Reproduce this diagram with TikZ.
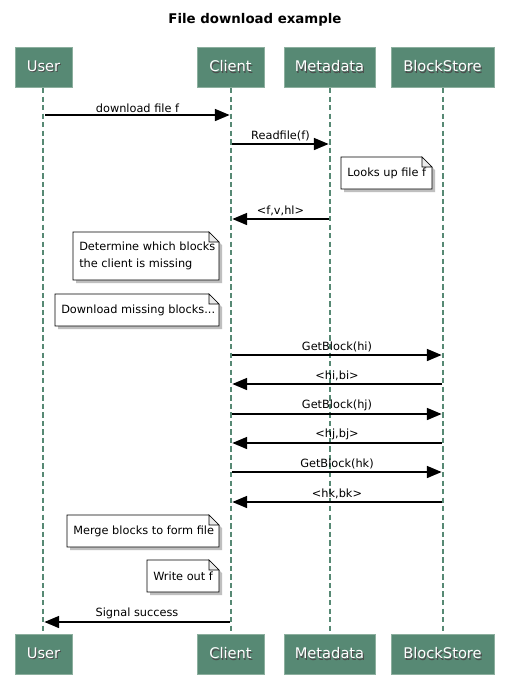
\documentclass[tikz,border=0pt]{standalone}
\usepackage{fontspec}
\setmainfont{DejaVu Sans}
\usetikzlibrary{arrows.meta}
\definecolor{pgreen}{RGB}{87,137,116}
\definecolor{pborder}{RGB}{140,175,158}
\definecolor{lgreen}{RGB}{87,137,116}
\definecolor{notefold}{RGB}{235,235,235}
\newcommand\ptext[1]{\rlap{\kern0.8pt\raisebox{-0.8pt}{\textcolor{black!70}{#1}}}\textcolor{white}{#1}}
\tikzset{
  part/.style={fill=pgreen, draw=pborder, line width=0.7pt, inner sep=0pt,
    minimum height=40*0.75pt, font=\fontsize{11}{13}\selectfont},
  lifeline/.style={draw=lgreen, line width=2pt, dash pattern=on 4pt off 2.4pt},
  msg/.style={line width=1.1pt, -{Triangle[length=11pt,width=9pt]}, shorten >=0.3pt},
  msglabel/.style={font=\fontsize{8.5}{10}\selectfont, inner sep=1.5pt, above},
  notebd/.style={draw=black, line width=0.5pt, fill=white},
  notetext/.style={font=\fontsize{8.5}{12.5}\selectfont, inner sep=0pt, align=left},
}
\newcommand\notebox[6]{%
  \fill[black!25] ({#2+3},{#3+3}) -- ({#4-10+3},{#3+3}) -- ({#4+3},{#3+10+3}) -- ({#4+3},{#5+3}) -- ({#2+3},{#5+3}) -- cycle;
  \draw[notebd] (#2,#3) -- ({#4-10},#3) -- (#4,{#3+10}) -- (#4,#5) -- (#2,#5) -- cycle;
  \draw[notebd, fill=notefold] ({#4-10},#3) -- ({#4-10},{#3+10}) -- (#4,{#3+10}) -- cycle;
  \node[notetext, anchor=west] (#1) at ({#2+6},{(#3+#5)/2}) {#6};
}
\begin{document}
\begin{tikzpicture}[x=0.75pt,y=-0.75pt]
\useasboundingbox[fill=white] (0,0) rectangle (509,683);
\node[font=\bfseries\fontsize{10}{12}\selectfont] (title) at (255,20) {File download example};
% participants top
\node[part, minimum width=57*0.75pt] (user) at (43.5,67) {\ptext{User}};
\node[part, minimum width=67*0.75pt] (client) at (230.5,67) {\ptext{Client}};
\node[part, minimum width=91*0.75pt] (meta) at (329.5,67) {\ptext{Metadata}};
\node[part, minimum width=103*0.75pt] (block) at (442.5,67) {\ptext{BlockStore}};
% participants bottom
\node[part, minimum width=57*0.75pt] (userb) at (43.5,654) {\ptext{User}};
\node[part, minimum width=67*0.75pt] (clientb) at (230.5,654) {\ptext{Client}};
\node[part, minimum width=91*0.75pt] (metab) at (329.5,654) {\ptext{Metadata}};
\node[part, minimum width=103*0.75pt] (blockb) at (442.5,654) {\ptext{BlockStore}};
% lifelines
\draw[lifeline] (43,88) -- (43,634);
\draw[lifeline] (231,88) -- (231,634);
\draw[lifeline] (330,88) -- (330,634);
\draw[lifeline] (443,88) -- (443,634);
% message endpoints
\coordinate (u1) at (45,115); \coordinate (c1) at (230,115);
\coordinate (c2) at (232,144); \coordinate (m2) at (329,144);
\coordinate (m3) at (329,219); \coordinate (c3) at (232,219);
\coordinate (c4) at (232,355); \coordinate (b4) at (442,355);
\coordinate (b5) at (442,384); \coordinate (c5) at (232,384);
\coordinate (c6) at (232,414); \coordinate (b6) at (442,414);
\coordinate (b7) at (442,443); \coordinate (c7) at (232,443);
\coordinate (c8) at (232,472); \coordinate (b8) at (442,472);
\coordinate (b9) at (442,502); \coordinate (c9) at (232,502);
\coordinate (c10) at (230,622); \coordinate (u10) at (44,622);
\draw[msg] (u1) -- node[msglabel] {download file f} (c1);
\draw[msg] (c2) -- node[msglabel] {Readfile(f)} (m2);
\notebox{n1}{341}{157}{432}{189}{Looks up file f}
\draw[msg] (m3) -- node[msglabel] {<f,v,hl>} (c3);
\notebox{n2}{73}{232}{219}{280}{Determine which blocks\\the client is missing}
\notebox{n3}{55}{294}{219}{326}{Download missing blocks...}
\draw[msg] (c4) -- node[msglabel] {GetBlock(hi)} (b4);
\draw[msg] (b5) -- node[msglabel] {<hi,bi>} (c5);
\draw[msg] (c6) -- node[msglabel] {GetBlock(hj)} (b6);
\draw[msg] (b7) -- node[msglabel] {<hj,bj>} (c7);
\draw[msg] (c8) -- node[msglabel] {GetBlock(hk)} (b8);
\draw[msg] (b9) -- node[msglabel] {<hk,bk>} (c9);
\notebox{n4}{67}{515}{219}{547}{Merge blocks to form file}
\notebox{n5}{147}{560}{219}{592}{Write out f}
\draw[msg] (c10) -- node[msglabel] {Signal success} (u10);
\end{tikzpicture}
\end{document}
